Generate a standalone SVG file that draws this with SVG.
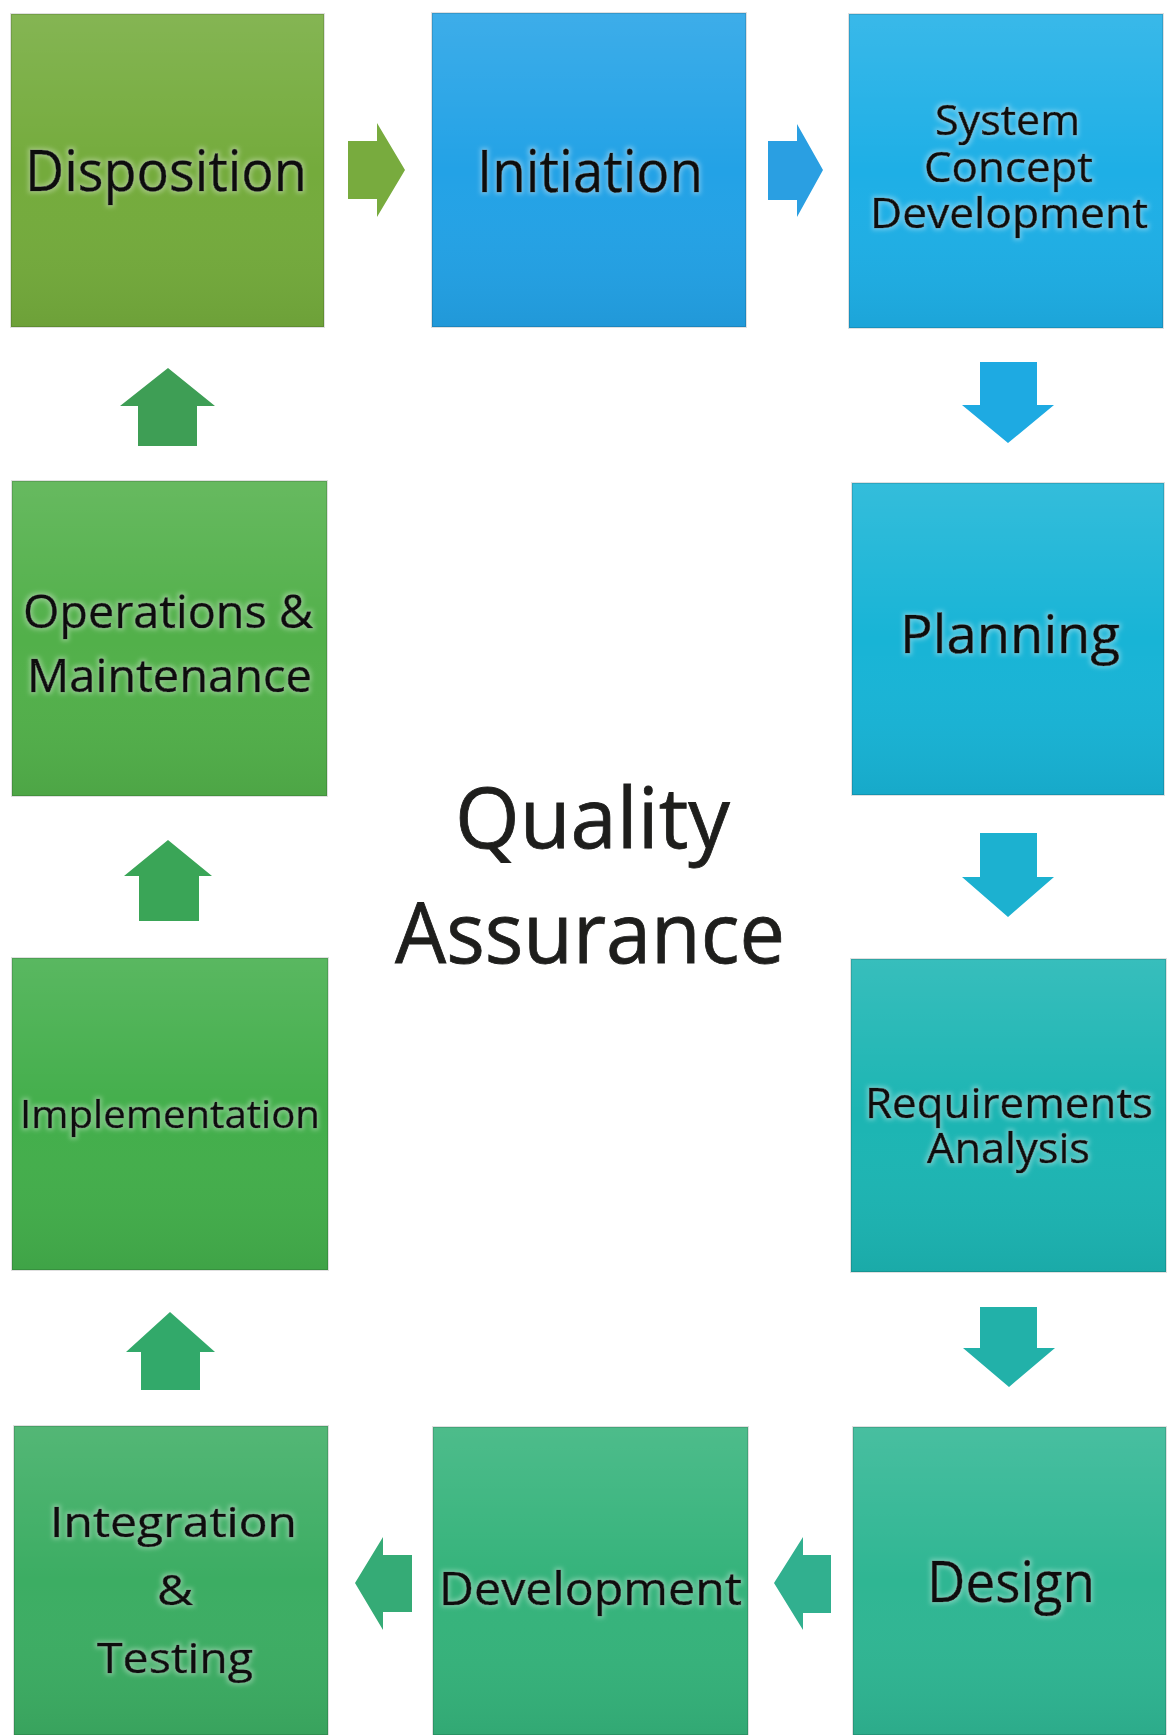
<svg xmlns="http://www.w3.org/2000/svg" width="1170" height="1735" viewBox="0 0 1170 1735">
<style>
.lbl{font-family:"Open Sans","Liberation Sans",sans-serif;fill:#0a0a0a;stroke:#0a0a0a;stroke-width:0.7;filter:url(#glow)}
.qa{font-family:"Open Sans","Liberation Sans",sans-serif;fill:#1e1e1c;stroke:#1e1e1c;stroke-width:0.8;font-size:84px}
.shade{fill:url(#shade)}
.edge{fill:none;stroke:#000;stroke-opacity:0.12;stroke-width:2}
</style>
<defs>
<linearGradient id="shade" x1="0" y1="0" x2="0" y2="1">
<stop offset="0" stop-color="#fff" stop-opacity="0.12"/>
<stop offset="0.5" stop-color="#fff" stop-opacity="0"/>
<stop offset="1" stop-color="#000" stop-opacity="0.06"/>
</linearGradient>
<filter id="glow" x="-10%" y="-30%" width="120%" height="160%">
<feMorphology in="SourceAlpha" operator="dilate" radius="1.5" result="d"/>
<feGaussianBlur in="d" stdDeviation="2" result="b"/>
<feFlood flood-color="#ffffff" flood-opacity="0.3"/>
<feComposite in2="b" operator="in" result="g"/>
<feMerge><feMergeNode in="g"/><feMergeNode in="SourceGraphic"/></feMerge>
</filter>
</defs>
<rect width="1170" height="1735" fill="#ffffff"/>

<g id="connectors">
<path d="M348,141 H377 V123 L405,170 L377,217 V199 H348 Z" fill="#78ab3e"/>
<path d="M768,141 H797 V124 L823,170 L797,217 V200 H768 Z" fill="#2a9fe2"/>
<path d="M980,362 H1037 V405 H1054 L1008,443 L962,405 H980 Z" fill="#1eaae2"/>
<path d="M980,833 H1037 V877 H1054 L1008,917 L962,877 H980 Z" fill="#1cb1d0"/>
<path d="M980,1307 H1037 V1348 H1055 L1009,1387 L963,1348 H980 Z" fill="#22b1a9"/>
<path d="M831,1555 V1613 H803 V1630 L774,1583 L803,1537 V1555 Z" fill="#31b08f"/>
<path d="M412,1555 V1612 H383 V1630 L355,1583 L383,1537 V1555 Z" fill="#35ab76"/>
<path d="M141,1390 V1352 H126 L170,1312 L215,1352 H200 V1390 Z" fill="#32a96a"/>
<path d="M139,921 V876 H124 L168,840 L212,876 H199 V921 Z" fill="#3aa557"/>
<path d="M138,446 V406 H120 L168,368 L215,406 H197 V446 Z" fill="#3e9e55"/>
</g>

<g id="disposition">
<rect x="11" y="14" width="313" height="313" fill="#74ab3c"/>
<rect x="11" y="14" width="313" height="313" class="shade"/>
<rect x="11" y="14" width="313" height="313" class="edge"/>
<text class="lbl" x="25" y="191" font-size="57" textLength="282" lengthAdjust="spacingAndGlyphs">Disposition</text>
</g>

<g id="initiation">
<rect x="432" y="13" width="314" height="314" fill="#23a2e6"/>
<rect x="432" y="13" width="314" height="314" class="shade"/>
<rect x="432" y="13" width="314" height="314" class="edge"/>
<text class="lbl" x="477" y="192" font-size="59" textLength="226" lengthAdjust="spacingAndGlyphs">Initiation</text>
</g>

<g id="system-concept-development">
<rect x="849" y="14" width="314" height="314" fill="#1eafe6"/>
<rect x="849" y="14" width="314" height="314" class="shade"/>
<rect x="849" y="14" width="314" height="314" class="edge"/>
<text class="lbl" x="935" y="135" font-size="42" textLength="145" lengthAdjust="spacingAndGlyphs">System</text>
<text class="lbl" x="924" y="182" font-size="42" textLength="169" lengthAdjust="spacingAndGlyphs">Concept</text>
<text class="lbl" x="870" y="228" font-size="42" textLength="278" lengthAdjust="spacingAndGlyphs">Development</text>
</g>

<g id="planning">
<rect x="852" y="483" width="312" height="312" fill="#18b4d6"/>
<rect x="852" y="483" width="312" height="312" class="shade"/>
<rect x="852" y="483" width="312" height="312" class="edge"/>
<text class="lbl" x="900" y="653" font-size="53" textLength="220" lengthAdjust="spacingAndGlyphs">Planning</text>
</g>

<g id="requirements-analysis">
<rect x="851" y="959" width="315" height="313" fill="#1cb5b3"/>
<rect x="851" y="959" width="315" height="313" class="shade"/>
<rect x="851" y="959" width="315" height="313" class="edge"/>
<text class="lbl" x="865" y="1118" font-size="42" textLength="288" lengthAdjust="spacingAndGlyphs">Requirements</text>
<text class="lbl" x="927" y="1163" font-size="42" textLength="163" lengthAdjust="spacingAndGlyphs">Analysis</text>
</g>

<g id="design">
<rect x="853" y="1427" width="313" height="308" fill="#2fb693"/>
<rect x="853" y="1427" width="313" height="308" class="shade"/>
<rect x="853" y="1427" width="313" height="308" class="edge"/>
<text class="lbl" x="927" y="1602" font-size="56" textLength="168" lengthAdjust="spacingAndGlyphs">Design</text>
</g>

<g id="development">
<rect x="433" y="1427" width="315" height="308" fill="#35b37b"/>
<rect x="433" y="1427" width="315" height="308" class="shade"/>
<rect x="433" y="1427" width="315" height="308" class="edge"/>
<text class="lbl" x="439" y="1605" font-size="45" textLength="303" lengthAdjust="spacingAndGlyphs">Development</text>
</g>

<g id="integration-testing">
<rect x="14" y="1426" width="314" height="309" fill="#3cad63"/>
<rect x="14" y="1426" width="314" height="309" class="shade"/>
<rect x="14" y="1426" width="314" height="309" class="edge"/>
<text class="lbl" x="50" y="1537" font-size="42" textLength="247" lengthAdjust="spacingAndGlyphs">Integration</text>
<text class="lbl" x="157" y="1605" font-size="42" textLength="36" lengthAdjust="spacingAndGlyphs">&amp;</text>
<text class="lbl" x="97" y="1673" font-size="42" textLength="156" lengthAdjust="spacingAndGlyphs">Testing</text>
</g>

<g id="implementation">
<rect x="12" y="958" width="316" height="312" fill="#43ae4b"/>
<rect x="12" y="958" width="316" height="312" class="shade"/>
<rect x="12" y="958" width="316" height="312" class="edge"/>
<text class="lbl" x="20" y="1128" font-size="39" textLength="300" lengthAdjust="spacingAndGlyphs">Implementation</text>
</g>

<g id="operations-maintenance">
<rect x="12" y="481" width="315" height="315" fill="#52b04a"/>
<rect x="12" y="481" width="315" height="315" class="shade"/>
<rect x="12" y="481" width="315" height="315" class="edge"/>
<text class="lbl" x="23" y="628" font-size="45" textLength="290" lengthAdjust="spacingAndGlyphs">Operations &amp;</text>
<text class="lbl" x="27" y="692" font-size="45" textLength="285" lengthAdjust="spacingAndGlyphs">Maintenance</text>
</g>

<g id="quality-assurance">
<text class="qa" x="455" y="848" textLength="275" lengthAdjust="spacingAndGlyphs">Quality</text>
<text class="qa" x="395" y="963" textLength="390" lengthAdjust="spacingAndGlyphs">Assurance</text>
</g>
</svg>
